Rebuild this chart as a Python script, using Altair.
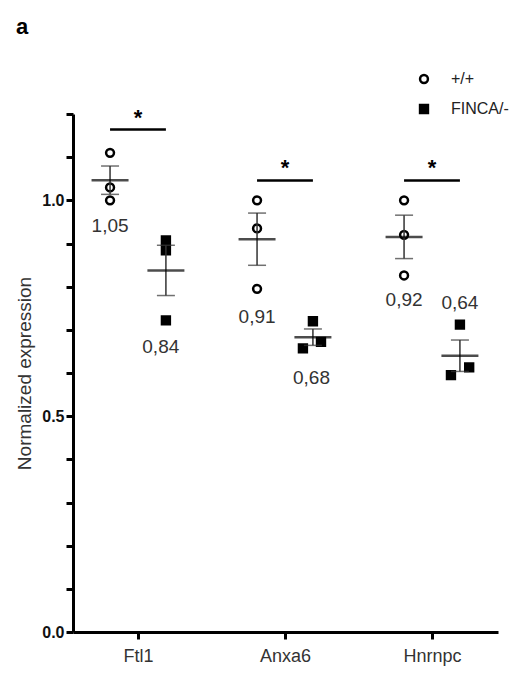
import altair as alt
import numpy as np
import pandas as pd

# ---- data ----
genes = ["Ftl1", "Anxa6", "Hnrnpc"]
groups = ["+/+", "FINCA/-"]

wt_ftl1 = [1.11, 1.03, 1.00]
wt_anxa6 = [1.00, 0.935, 0.795]
wt_hnrnpc = [1.00, 0.92, 0.826]

ko_ftl1 = [0.907, 0.884, 0.722]
ko_anxa6 = [0.72, 0.672, 0.657]
ko_hnrnpc = [0.712, 0.613, 0.595]

mean_labels_wt = ["1,05", "0,91", "0,92"]
mean_labels_ko = ["0,84", "0,68", "0,64"]
significance = ["*", "*", "*"]
panel_label = ["a"]

# ---- layout helpers (styling, not data) ----
group_offset = {"+/+": -0.19, "FINCA/-": 0.19}
jitter = {
    ("Ftl1", "FINCA/-"): [0.0, 0.0, 0.0],
    ("Anxa6", "FINCA/-"): [0.0, 0.055, -0.068],
    ("Hnrnpc", "FINCA/-"): [0.0, 0.063, -0.061],
}
label_y_wt = [0.94, 0.730, 0.769]
label_y_ko = [0.660, 0.588, 0.762]
label_dx_ko = [-0.035, -0.01, 0.0]
sig_bar_y = [1.164, 1.046, 1.046]

wt = [wt_ftl1, wt_anxa6, wt_hnrnpc]
ko = [ko_ftl1, ko_anxa6, ko_hnrnpc]

pts, summ, labs, sig = [], [], [], []
for i, g in enumerate(genes):
    for grp, vals in (("+/+", wt[i]), ("FINCA/-", ko[i])):
        jit = jitter.get((g, grp), [0.0] * len(vals))
        for v, j in zip(vals, jit):
            pts.append({"gene": g, "group": grp, "value": v,
                        "x": i + group_offset[grp] + j})
        m = float(np.mean(vals))
        sem = float(np.std(vals, ddof=1) / np.sqrt(len(vals)))
        summ.append({"gene": g, "group": grp, "x": i + group_offset[grp],
                     "mean": m, "lo": m - sem, "hi": m + sem})
    labs.append({"x": i + group_offset["+/+"], "y": label_y_wt[i], "text": mean_labels_wt[i]})
    labs.append({"x": i + group_offset["FINCA/-"] + label_dx_ko[i], "y": label_y_ko[i],
                 "text": mean_labels_ko[i]})
    sig.append({"x": i + group_offset["+/+"], "x2": i + group_offset["FINCA/-"],
                "y": sig_bar_y[i], "xc": float(i), "text": significance[i]})

pts = pd.DataFrame(pts)
summ = pd.DataFrame(summ)
labs = pd.DataFrame(labs)
sig = pd.DataFrame(sig)

FONT = "Liberation Sans"
xscale = alt.Scale(domain=[-0.442, 2.449], nice=False, zero=False)
yscale = alt.Scale(domain=[0, 1.2], nice=False)

xaxis = alt.Axis(
    values=[0, 1, 2], labelExpr="['Ftl1','Anxa6','Hnrnpc'][datum.value]",
    title=None, grid=False, domainColor="black", domainWidth=3,
    tickColor="black", tickWidth=3, tickSize=7, labelFontSize=18,
    labelColor="#333", labelPadding=8, labelFont=FONT,
)
yaxis = alt.Axis(
    values=[round(0.1 * k, 1) for k in range(13)],
    labelExpr="(datum.value == 0 || datum.value == 0.5 || datum.value == 1) ? format(datum.value, '.1f') : ''",
    title="Normalized expression", grid=False, domainColor="black", domainWidth=3,
    tickColor="black", tickWidth=3, tickSize=7, labelFontSize=16,
    labelFontWeight="bold", labelColor="#111", labelPadding=2, labelFont=FONT,
    titleFont=FONT, titleFontSize=19, titleFontWeight="normal", titleColor="#333",
    titlePadding=7,
)

x = alt.X("x:Q", scale=xscale, axis=xaxis)
leg = alt.Legend(title=None, symbolStrokeColor="black", symbolStrokeWidth=2.5)

points = alt.Chart(pts).mark_point(filled=True, size=62, strokeWidth=2.5, opacity=1).encode(
    x=x,
    y=alt.Y("value:Q", scale=yscale, axis=yaxis),
    shape=alt.Shape("group:N", scale=alt.Scale(domain=groups, range=["circle", "square"]),
                    legend=leg),
    fill=alt.Fill("group:N", scale=alt.Scale(domain=groups, range=["white", "black"]),
                  legend=leg),
    stroke=alt.Stroke("group:N", scale=alt.Scale(domain=groups, range=["black", "black"]),
                      legend=leg),
)

errbar = alt.Chart(summ).mark_rule(color="#333", strokeWidth=1.5).encode(
    x=alt.X("x:Q", scale=xscale), y=alt.Y("lo:Q", scale=yscale), y2="hi:Q")
cap_lo = alt.Chart(summ).mark_tick(orient="horizontal", size=18, thickness=1.5,
                                   color="#333").encode(
    x=alt.X("x:Q", scale=xscale), y=alt.Y("lo:Q", scale=yscale))
cap_hi = alt.Chart(summ).mark_tick(orient="horizontal", size=18, thickness=1.5,
                                   color="#333").encode(
    x=alt.X("x:Q", scale=xscale), y=alt.Y("hi:Q", scale=yscale))
meanline = alt.Chart(summ).mark_tick(orient="horizontal", size=37, thickness=2.5,
                                     color="black").encode(
    x=alt.X("x:Q", scale=xscale), y=alt.Y("mean:Q", scale=yscale))

labels = alt.Chart(labs).mark_text(font=FONT, fontSize=19, color="#333",
                                   baseline="middle", align="center").encode(
    x=alt.X("x:Q", scale=xscale), y=alt.Y("y:Q", scale=yscale), text="text:N")

sigbar = alt.Chart(sig).mark_rule(color="black", strokeWidth=2.5).encode(
    x=alt.X("x:Q", scale=xscale), x2="x2:Q", y=alt.Y("y:Q", scale=yscale))
stars = alt.Chart(sig).mark_text(font=FONT, fontSize=22, fontWeight="bold",
                                 color="black", baseline="alphabetic", dy=-5).encode(
    x=alt.X("xc:Q", scale=xscale), y=alt.Y("y:Q", scale=yscale), text="text:N")

panel = alt.Chart(pd.DataFrame({"t": panel_label})).mark_text(
    font=FONT, fontSize=22, fontWeight="bold", color="black",
    align="left", baseline="alphabetic").encode(
    x=alt.value(-57), y=alt.value(-80), text="t:N")

chart = alt.layer(points, errbar, cap_lo, cap_hi, meanline, labels, sigbar, stars,
                  panel).properties(
    width=425, height=518,
    autosize=alt.AutoSizeParams(type="none"),
    padding={"left": 65, "top": 106, "right": 12, "bottom": 40},
).configure_view(stroke=None).configure_legend(
    orient="none", legendX=343, legendY=-43, labelFont=FONT, labelFontSize=16,
    labelColor="#222", symbolStrokeColor="black", symbolStrokeWidth=2.5,
    symbolSize=62, labelOffset=19, rowPadding=12, padding=0,
)

chart.save("out.html", embed_options={"renderer": "svg", "actions": False})
